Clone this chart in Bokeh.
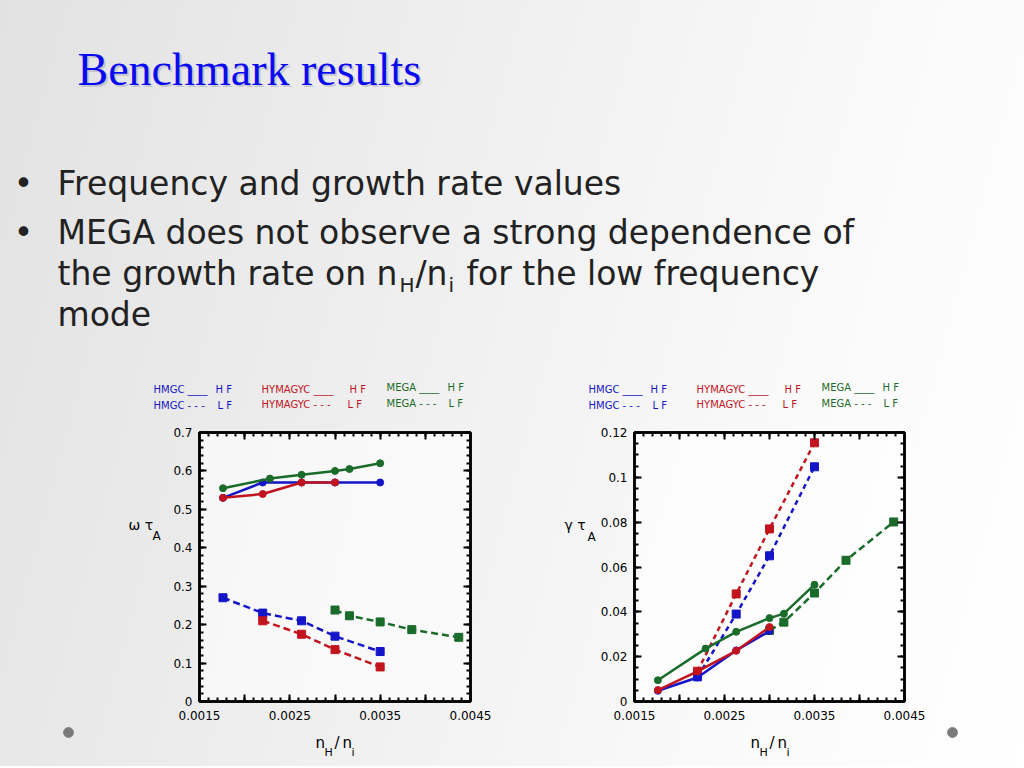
from bokeh.plotting import figure
from bokeh.layouts import column, row
from bokeh.models import Range1d, LinearAxis, FixedTicker
from bokeh.core.properties import value
from bokeh.embed import file_html
from bokeh.resources import INLINE

# ---------------- data ----------------
title_text = "Benchmark results"
bullet_lines = [
    "Frequency and growth rate values",
    "MEGA does not observe a strong dependence of",
]

x_ticks = [0.0015, 0.002, 0.0025, 0.003, 0.0035, 0.004, 0.0045]
x_tick_labels = ["0.0015", "", "0.0025", "", "0.0035", "", "0.0045"]

w_ticks = [0.0, 0.1, 0.2, 0.3, 0.4, 0.5, 0.6, 0.7]
w_tick_labels = ["0", "0.1", "0.2", "0.3", "0.4", "0.5", "0.6", "0.7"]
g_ticks = [0.0, 0.02, 0.04, 0.06, 0.08, 0.1, 0.12]
g_tick_labels = ["0", "0.02", "0.04", "0.06", "0.08", "0.1", "0.12"]

# frequency (omega tau_A)
w_hmgc_hf_x = [0.00176, 0.0022, 0.00263, 0.0030, 0.0035]
w_hmgc_hf_y = [0.53, 0.57, 0.57, 0.57, 0.57]
w_hymagyc_hf_x = [0.00176, 0.0022, 0.00263, 0.0030]
w_hymagyc_hf_y = [0.53, 0.54, 0.57, 0.57]
w_mega_hf_x = [0.00176, 0.00228, 0.00263, 0.0030, 0.00316, 0.0035]
w_mega_hf_y = [0.555, 0.58, 0.59, 0.60, 0.605, 0.62]
w_hmgc_lf_x = [0.00176, 0.0022, 0.00263, 0.0030, 0.0035]
w_hmgc_lf_y = [0.27, 0.23, 0.21, 0.17, 0.13]
w_hymagyc_lf_x = [0.0022, 0.00263, 0.0030, 0.0035]
w_hymagyc_lf_y = [0.21, 0.175, 0.135, 0.09]
w_mega_lf_x = [0.0030, 0.00316, 0.0035, 0.00385, 0.00437]
w_mega_lf_y = [0.238, 0.223, 0.207, 0.187, 0.167]

# growth rate (gamma tau_A)
g_hmgc_hf_x = [0.00176, 0.0022, 0.00263, 0.0030]
g_hmgc_hf_y = [0.0048, 0.0107, 0.0228, 0.0314]
g_hymagyc_hf_x = [0.00176, 0.0022, 0.00263, 0.0030]
g_hymagyc_hf_y = [0.0051, 0.0134, 0.0226, 0.0332]
g_mega_hf_x = [0.00176, 0.00229, 0.00263, 0.0030, 0.00316, 0.0035]
g_mega_hf_y = [0.0095, 0.0236, 0.0311, 0.0372, 0.0392, 0.0521]
g_hmgc_lf_x = [0.0022, 0.00263, 0.0030, 0.0035]
g_hmgc_lf_y = [0.011, 0.039, 0.065, 0.1047]
g_hymagyc_lf_x = [0.0022, 0.00263, 0.0030, 0.0035]
g_hymagyc_lf_y = [0.0135, 0.048, 0.077, 0.1154]
g_mega_lf_x = [0.0030, 0.00316, 0.0035, 0.00385, 0.00438]
g_mega_lf_y = [0.0317, 0.0354, 0.0484, 0.063, 0.0801]

legend_names = ["HMGC", "HYMAGYC", "MEGA"]

BLUE = "#1414c8"
RED = "#c2141e"
GREEN = "#1b6b2b"
SANS = "DejaVu Sans"
TXT = "#222222"


def text_canvas(x0, x1, y0, y1):
    """A transparent figure whose data coordinates equal page pixels."""
    f = figure(width=x1 - x0, height=y1 - y0, x_range=Range1d(x0, x1),
               y_range=Range1d(y1, y0), output_backend="svg",
               toolbar_location=None, min_border=0,
               x_axis_location=None, y_axis_location=None)
    f.grid.visible = False
    f.outline_line_color = None
    f.background_fill_color = None
    f.border_fill_color = None
    return f


def put(f, x, y, s, size, color=TXT, font=SANS, align="left", baseline="alphabetic", alpha=1.0):
    f.text(x=[x], y=[y], text=[s], text_font=value(font), text_font_size=value(size),
           text_color=color, text_alpha=alpha, text_align=align, text_baseline=baseline)


# ---------------- header: title, bullets, legends ----------------
hdr = text_canvas(0, 1024, 0, 420)
put(hdr, 79, 71, title_text, "46px", "#8888a0", "Liberation Serif", alpha=0.35)
put(hdr, 77, 69, title_text, "46px", "#0a0af0", "Liberation Serif")

BS = "33px"
put(hdr, 23, 183, "•", BS, align="center")
put(hdr, 23, 232, "•", BS, align="center")
put(hdr, 57, 183, bullet_lines[0], BS)
put(hdr, 57, 232, bullet_lines[1], BS)
put(hdr, 57, 273, "the growth rate on n", BS)
put(hdr, 399, 284, "H", "20px")
put(hdr, 415, 273, "/n", BS)
put(hdr, 448, 284, "i", "20px")
put(hdr, 466, 273, "for the low frequency", BS)
put(hdr, 57, 314, "mode", BS)

# legends above both charts (chart 2 offset by 435 px)
leg_colors = [BLUE, RED, GREEN]
leg_x = [153, 261, 386]
leg_hf_x = [215, 349, 447]
leg_lf_x = [217, 347, 448]
leg_y = [(389, 405), (389, 404), (387, 403)]
for off in (0, 435):
    for i, name in enumerate(legend_names):
        c = leg_colors[i]
        put(hdr, leg_x[i] + off, leg_y[i][0], name + " ____", "10px", c, baseline="middle")
        put(hdr, leg_hf_x[i] + off, leg_y[i][0], "H F", "10px", c, baseline="middle")
        put(hdr, leg_x[i] + off, leg_y[i][1], name + " - - -", "10px", c, baseline="middle")
        put(hdr, leg_lf_x[i] + off, leg_y[i][1], "L F", "10px", c, baseline="middle")

# ---------------- y-axis label strips ----------------
lab_a = text_canvas(0, 170, 420, 725)
put(lab_a, 128, 525, "ω τ", "14px", "black", baseline="middle")
put(lab_a, 152, 537, "A", "12px", "black", baseline="middle")

lab_b = text_canvas(520, 596, 420, 725)
put(lab_b, 564, 525, "γ τ", "14px", "black", baseline="middle")
put(lab_b, 587, 538, "A", "12px", "black", baseline="middle")

# ---------------- footer: x-axis labels and slide dots ----------------
ftr = text_canvas(0, 1024, 725, 766)
for off in (0, 435):
    put(ftr, 315 + off, 742, "n", "15px", "black", baseline="middle")
    put(ftr, 324 + off, 752, "H", "11px", "black", baseline="middle")
    put(ftr, 334 + off, 742, "/", "15px", "black", baseline="middle")
    put(ftr, 342 + off, 742, "n", "15px", "black", baseline="middle")
    put(ftr, 351 + off, 752, "i", "11px", "black", baseline="middle")
decor_x = [68, 952]
decor_y = [732, 732]
ftr.scatter(decor_x, decor_y, marker="circle", size=10, fill_color="#7a7a7a",
            line_color="#8a8a8a")


# ---------------- charts ----------------
def make_chart(min_left, frame_w, min_right, y_max, y_ticks, y_labels, y_minor_n, series):
    p = figure(width=min_left + frame_w + min_right, height=305,
               x_range=Range1d(0.0015, 0.0045), y_range=Range1d(0, y_max),
               output_backend="svg", toolbar_location=None,
               min_border_left=min_left, min_border_right=min_right,
               min_border_top=12, min_border_bottom=24,
               x_axis_location=None, y_axis_location=None)
    p.grid.visible = False
    p.background_fill_color = "white"
    p.background_fill_alpha = 0.6
    p.border_fill_color = None
    p.outline_line_color = "black"
    p.outline_line_width = 2.5

    xminor = [0.0015 + i * 0.0001 for i in range(31)]
    step = y_ticks[1] - y_ticks[0]
    yminor = [i * step / y_minor_n for i in range(int(round(y_max / step * y_minor_n)) + 1)]
    xt = FixedTicker(ticks=x_ticks, minor_ticks=xminor)
    yt = FixedTicker(ticks=y_ticks, minor_ticks=yminor)

    for loc, ticker, is_x, labels in [("below", xt, True, x_tick_labels),
                                      ("above", xt, True, None),
                                      ("left", yt, False, y_labels),
                                      ("right", yt, False, None)]:
        ax = LinearAxis(ticker=ticker)
        ax.axis_line_width = 2.5
        ax.major_tick_in = 7
        ax.major_tick_out = 0
        ax.minor_tick_in = 4
        ax.minor_tick_out = 0
        ax.major_tick_line_width = 2
        ax.minor_tick_line_width = 2
        if labels is None:
            ax.major_label_text_font_size = "0px"
            ax.major_label_text_color = None
            ax.major_label_standoff = 0
        else:
            tv = x_ticks if is_x else y_ticks
            ax.major_label_overrides = {t: l for t, l in zip(tv, labels)}
            ax.major_label_text_font = SANS
            ax.major_label_text_font_size = "12px"
            ax.major_label_text_color = "black"
            ax.major_label_standoff = 9 if is_x else 7
        p.add_layout(ax, loc)

    for xs, ys, col, dash, marker in series:
        p.line(xs, ys, line_color=col, line_width=2.5, line_dash=dash)
        if marker == "circle":
            p.scatter(xs, ys, marker="circle", size=7, fill_color=col, line_color=col)
        else:
            p.scatter(xs, ys, marker="square", size=8, fill_color=col, line_color=col)
    return p


w_series = [
    (w_hmgc_hf_x, w_hmgc_hf_y, BLUE, "solid", "circle"),
    (w_hymagyc_hf_x, w_hymagyc_hf_y, RED, "solid", "circle"),
    (w_mega_hf_x, w_mega_hf_y, GREEN, "solid", "circle"),
    (w_hmgc_lf_x, w_hmgc_lf_y, BLUE, "7 4", "square"),
    (w_hymagyc_lf_x, w_hymagyc_lf_y, RED, "7 4", "square"),
    (w_mega_lf_x, w_mega_lf_y, GREEN, "7 4", "square"),
]
g_series = [
    (g_hmgc_lf_x, g_hmgc_lf_y, BLUE, "5 4", "square"),
    (g_hymagyc_lf_x, g_hymagyc_lf_y, RED, "5 4", "square"),
    (g_mega_lf_x, g_mega_lf_y, GREEN, "7 4", "square"),
    (g_hmgc_hf_x, g_hmgc_hf_y, BLUE, "solid", "circle"),
    (g_hymagyc_hf_x, g_hymagyc_hf_y, RED, "solid", "circle"),
    (g_mega_hf_x, g_mega_hf_y, GREEN, "solid", "circle"),
]

left = make_chart(29, 271, 50, 0.7, w_ticks, w_tick_labels, 5, w_series)
right = make_chart(38, 270, 120, 0.12, g_ticks, g_tick_labels, 4, g_series)

layout = column(hdr, row(lab_a, left, lab_b, right), ftr,
                styles={"background": "linear-gradient(105deg, #e2e2e2 0%, #efefef 40%, #fafafa 75%, #ffffff 100%)"})

open("out.html", "w").write(file_html(layout, INLINE))
